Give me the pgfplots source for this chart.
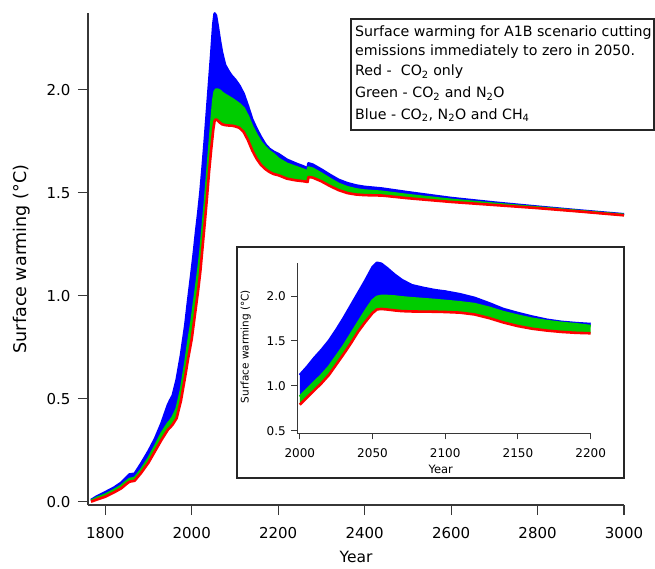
\documentclass[border=0pt]{standalone}
\usepackage{fontspec}
\setmainfont{DejaVu Sans}
\usepackage{pgfplots}
\usepackage{pgfplotstable}
\pgfplotsset{compat=1.18}

\definecolor{cred}{RGB}{255,0,0}
\definecolor{cgreen}{RGB}{0,204,0}
\definecolor{cblue}{RGB}{0,0,255}
\definecolor{axgray}{RGB}{55,55,55}

% surface warming (deg C): CO2 only / CO2+N2O / CO2+N2O+CH4
\pgfplotstableread{
year red green blue
1767 0.000 0.004 0.008
1780 0.010 0.018 0.025
1800 0.024 0.034 0.046
1820 0.045 0.056 0.068
1837 0.065 0.077 0.092
1850 0.088 0.100 0.120
1856 0.097 0.110 0.132
1868 0.102 0.115 0.136
1883 0.140 0.155 0.185
1900 0.190 0.210 0.245
1915 0.245 0.268 0.305
1930 0.300 0.330 0.380
1945 0.350 0.380 0.470
1950 0.360 0.392 0.492
1956 0.375 0.410 0.515
1965 0.405 0.450 0.590
1975 0.490 0.540 0.710
1985 0.610 0.670 0.855
1991 0.688 0.760 0.965
2000 0.790 0.880 1.120
2005 0.870 0.960 1.210
2010 0.950 1.040 1.310
2015 1.030 1.120 1.400
2020 1.120 1.210 1.500
2025 1.235 1.325 1.620
2030 1.350 1.440 1.750
2035 1.470 1.570 1.890
2040 1.600 1.700 2.030
2045 1.710 1.830 2.170
2050 1.810 1.950 2.320
2053 1.850 1.990 2.370
2056 1.856 2.000 2.360
2060 1.850 2.000 2.310
2065 1.840 1.995 2.240
2070 1.832 1.985 2.180
2077 1.828 1.975 2.120
2085 1.826 1.965 2.090
2093 1.825 1.955 2.065
2100 1.822 1.945 2.050
2110 1.815 1.930 2.020
2120 1.795 1.910 1.980
2130 1.755 1.870 1.920
2140 1.705 1.820 1.855
2150 1.665 1.780 1.810
2160 1.635 1.745 1.770
2170 1.615 1.720 1.735
2180 1.600 1.700 1.712
2190 1.590 1.685 1.698
2200 1.585 1.665 1.688
2220 1.568 1.640 1.660
2240 1.560 1.625 1.642
2260 1.555 1.610 1.626
2268 1.552 1.602 1.617
2270 1.576 1.622 1.642
2280 1.573 1.616 1.636
2300 1.555 1.592 1.612
2320 1.532 1.566 1.586
2340 1.512 1.542 1.562
2360 1.498 1.526 1.546
2380 1.491 1.516 1.535
2400 1.488 1.510 1.528
2440 1.486 1.504 1.520
2500 1.473 1.488 1.502
2600 1.455 1.465 1.474
2700 1.440 1.446 1.452
2800 1.425 1.428 1.432
2900 1.408 1.410 1.413
3000 1.390 1.392 1.395
}\warming

\pgfplotsset{
  common/.style={
    scale only axis, clip=false,
    axis x line=bottom, axis y line=left,
    axis line style={-, axgray, line width=1.2pt},
    tick align=outside,
    tick style={axgray, line width=1.2pt},
    /pgf/number format/assume math mode=true,
    xticklabel style={/pgf/number format/1000 sep={}},
    yticklabel style={/pgf/number format/fixed,
      /pgf/number format/fixed zerofill, /pgf/number format/precision=1},
    ylabel={Surface warming (°C)}, xlabel={Year},
  },
  bands/.style={line width=2.6pt, line join=round},
}

% the three bands: red base, green and blue gaps stacked on it, then the curves
\newcommand\drawbands{%
  \addplot[draw=none, stack plots=y] table[x=year, y=red] {\warming};
  \addplot[draw=none, fill=cgreen, stack plots=y]
    table[x=year, y expr=\thisrow{green}-\thisrow{red}] {\warming} \closedcycle;
  \addplot[draw=none, fill=cblue, stack plots=y]
    table[x=year, y expr=\thisrow{blue}-\thisrow{green}] {\warming} \closedcycle;
  \addplot[cblue, bands] table[x=year, y=blue] {\warming};
  \addplot[cgreen, bands] table[x=year, y=green] {\warming};
  \addplot[cred, bands] table[x=year, y=red] {\warming};
}

\begin{document}
\begin{tikzpicture}
\useasboundingbox (0,0) rectangle (655pt,568pt);

\begin{axis}[common,
  at={(88pt,63pt)}, anchor=south west,
  width=536pt, height=492pt,
  xmin=1760, xmax=3000, ymin=-0.016, ymax=2.372,
  xtick={1800,2000,2200,2400,2600,2800,3000},
  ytick={0,0.5,1,1.5,2},
  major tick length=10pt,
  ticklabel style={font=\fontsize{15}{18}\selectfont},
  xticklabel style={yshift=-9pt},
  yticklabel style={xshift=-4pt},
  label style={font=\fontsize{17.5}{21}\selectfont},
  xlabel style={font=\fontsize{15.5}{18}\selectfont, at={(axis description cs:0.5,-0.106)}, anchor=center},
  ylabel style={at={(axis description cs:-0.123,0.5)}, anchor=center},
]
  \drawbands
\end{axis}

% legend text box
\draw[line width=1.1pt, black!85] (351pt,438pt) rectangle (654pt,549pt);
\begin{scope}[every node/.style={anchor=base west, inner sep=0pt, font=\fontsize{14.2}{17}\selectfont}]
  \node at (355pt,531.3pt) {Surface warming for A1B scenario cutting};
  \node at (355pt,512pt) {emissions immediately to zero in 2050.};
  \node at (355pt,492pt) {Red -\ \ CO\textsubscript{2} only};
  \node at (355pt,470.3pt) {Green - CO\textsubscript{2} and N\textsubscript{2}O};
  \node at (355pt,448.7pt) {Blue - CO\textsubscript{2}, N\textsubscript{2}O and CH\textsubscript{4}};
\end{scope}

% inset frame
\draw[line width=1.1pt, black!85, fill=white] (237pt,90pt) rectangle (624pt,321pt);

\begin{axis}[common,
  at={(297.3pt,134.7pt)}, anchor=south west,
  width=293.4pt, height=170.6pt,
  xmin=1998.3, xmax=2200, ymin=0.471, ymax=2.371,
  xtick={2000,2050,2100,2150,2200},
  ytick={0.5,1,1.5,2},
  major tick length=6pt,
  axis line style={-, axgray, line width=1pt},
  tick style={axgray, line width=1pt},
  ticklabel style={font=\fontsize{12}{14}\selectfont},
  xticklabel style={yshift=-6pt},
  yticklabel style={xshift=-2pt},
  label style={font=\fontsize{10.5}{12.5}\selectfont},
  xlabel style={font=\fontsize{11.5}{13.5}\selectfont, at={(axis description cs:0.489,-0.211)}, anchor=center},
  ylabel style={at={(axis description cs:-0.176,0.508)}, anchor=center},
  restrict x to domain=2000:2200,
]
  \drawbands
\end{axis}
\end{tikzpicture}
\end{document}
